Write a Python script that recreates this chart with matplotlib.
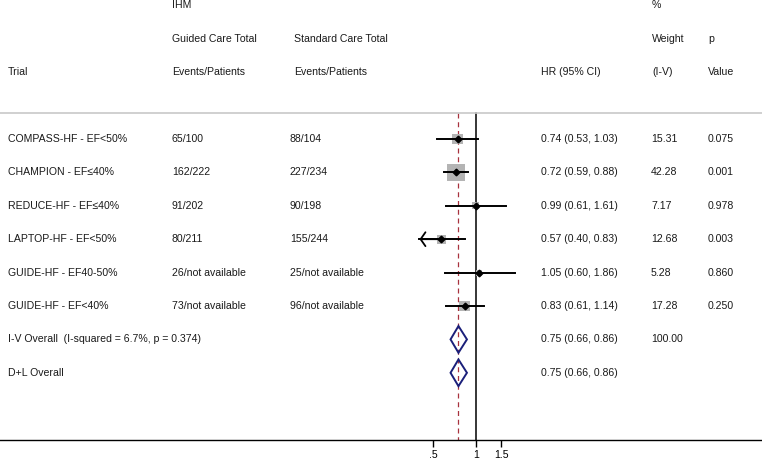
import numpy as np
import matplotlib
matplotlib.use("Agg")
import matplotlib.pyplot as plt
from matplotlib.patches import Polygon
import matplotlib.transforms as mtransforms

plt.rcParams['font.family'] = ['Liberation Sans', 'DejaVu Sans']

# data
trials = ['COMPASS-HF - EF<50%', 'CHAMPION - EF≤40%', 'REDUCE-HF - EF≤40%',
          'LAPTOP-HF - EF<50%', 'GUIDE-HF - EF40-50%', 'GUIDE-HF - EF<40%']
guided = ['65/100', '162/222', '91/202', '80/211', '26/not available', '73/not available']
standard = ['88/104', '227/234', '90/198', '155/244', '25/not available', '96/not available']
hr = [0.74, 0.72, 0.99, 0.57, 1.05, 0.83]
lo = [0.53, 0.59, 0.61, 0.40, 0.60, 0.61]
hi = [1.03, 0.88, 1.61, 0.83, 1.86, 1.14]
weight = [15.31, 42.28, 7.17, 12.68, 5.28, 17.28]
pval = ['0.075', '0.001', '0.978', '0.003', '0.860', '0.250']

overall_labels = ['I-V Overall  (I-squared = 6.7%, p = 0.374)', 'D+L Overall']
overall_hr = [0.75, 0.75]
overall_lo = [0.66, 0.66]
overall_hi = [0.86, 0.86]
overall_weight = ['100.00', '']

xticks = [0.5, 1, 1.5]
xticklabels = ['.5', '1', '1.5']

fig = plt.figure(figsize=(7.62, 4.62), dpi=100)
ax = fig.add_axes([0, 22/462, 1, 440/462])
ax.set_xscale('log')
ax.set_xlim(np.exp(-476.3/62), np.exp((762-476.3)/62))
ax.set_ylim(301/33.4, -139/33.4)
for s in ['top', 'left', 'right']:
    ax.spines[s].set_visible(False)
ax.spines['bottom'].set_linewidth(1.0)
ax.set_yticks([])
ax.set_xticks(xticks)
ax.set_xticklabels(xticklabels, fontsize=7.6)
ax.xaxis.set_minor_locator(matplotlib.ticker.NullLocator())
ax.tick_params(axis='x', direction='out', length=5, width=1, pad=2)

trans = mtransforms.blended_transform_factory(ax.transAxes, ax.transData)
fs = 7.6
tc = '#1a1a1a'

def put(x, y, s):
    ax.text(x/762, y, s, transform=trans, fontsize=fs, va='center', color=tc)

# headers
put(172, -4, 'IHM')
put(652, -4, '%')
put(172, -3, 'Guided Care Total')
put(294, -3, 'Standard Care Total')
put(652, -3, 'Weight')
put(708, -3, 'p')
put(8, -2, 'Trial')
put(172, -2, 'Events/Patients')
put(294, -2, 'Events/Patients')
put(541, -2, 'HR (95% CI)')
put(652, -2, '(I-V)')
put(708, -2, 'Value')

top_line = -0.77
ax.plot([0, 1], [top_line, top_line], transform=trans, color='#c8c8c8', lw=1.2, clip_on=False)

ybot = 301/33.4
ax.plot([1, 1], [top_line, ybot], color='black', lw=1.1, zorder=1)
ax.plot([overall_hr[0], overall_hr[0]], [top_line, ybot], color='#a8323e', lw=0.9,
        ls=(0, (4, 3)), zorder=1)

rows = np.arange(len(trials))
for i in rows:
    put(8, i, trials[i])
    put(172, i, guided[i])
    put(290, i, standard[i])
    put(541, i, '%.2f (%.2f, %.2f)' % (hr[i], lo[i], hi[i]))
    put(651, i, '%.2f' % weight[i])
    put(708, i, pval[i])

ax.scatter(hr, rows, s=[3.6*w for w in weight], marker='s', color='#b4b4b4',
           edgecolors='none', zorder=2)
for i in rows:
    ax.plot([lo[i], hi[i]], [i, i], color='black', lw=1.4, zorder=3)
    if lo[i] < xticks[0]:
        ax.annotate('', xy=(lo[i], i), xytext=(hr[i], i),
                    arrowprops=dict(arrowstyle='->,head_length=0.35,head_width=0.5',
                                    color='black', lw=1.3, mutation_scale=10,
                                    shrinkA=0, shrinkB=0), zorder=3)
ax.plot(hr, rows, 'D', color='black', ms=3.4, zorder=4)

for j in range(len(overall_labels)):
    r = len(trials) + j
    put(8, r, overall_labels[j])
    put(541, r, '%.2f (%.2f, %.2f)' % (overall_hr[j], overall_lo[j], overall_hi[j]))
    put(651, r, overall_weight[j])
    dia = Polygon([(overall_lo[j], r), (overall_hr[j], r - 0.4), (overall_hi[j], r),
                   (overall_hr[j], r + 0.4)], closed=True, fill=False,
                  edgecolor='#1a1f7a', lw=1.4, zorder=3)
    ax.add_patch(dia)

fig.savefig('out.png', dpi=100)
